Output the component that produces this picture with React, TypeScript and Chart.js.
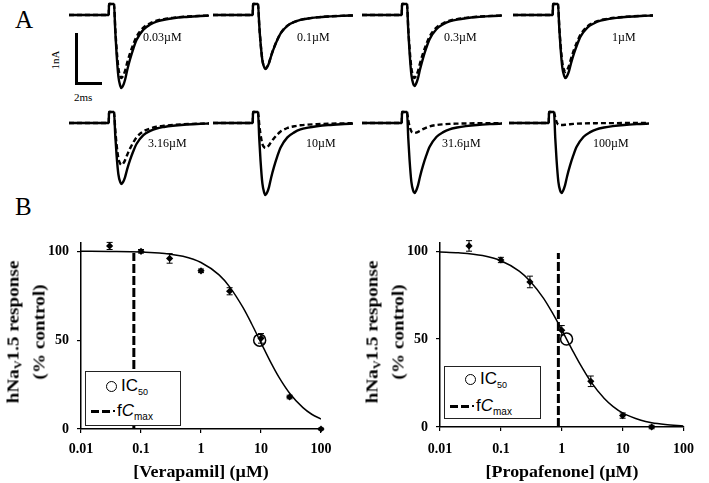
import React, { useEffect, useRef } from "react";
import { Chart, registerables } from "chart.js";

Chart.register(...registerables);

// ---------------- Panel A : current traces ----------------
const concLabels = ["0.03µM", "0.1µM", "0.3µM", "1µM", "3.16µM", "10µM", "31.6µM", "100µM"];
// peak inward current (nA), control (solid) and drug (dashed)
const controlPeak = [1.46, 1.08, 1.42, 1.26, 1.22, 1.44, 1.4, 1.4];
const drugPeak = [1.26, 1.07, 1.26, 1.14, 0.84, 0.5, 0.2, 0.04];
// time (ms) relative to the depolarising step
const traceTime = [-3.2, -0.02, 0, 0.4, 0.5, 0.6, 0.75, 0.9, 1.0, 1.12, 1.28, 1.45, 1.68, 1.95, 2.21, 2.75, 3.3, 3.8, 4.4, 5.1, 6.0, 7.3, 8.0];
// capacitive artefact (nA)
const capArtifact = [0, 0, 0.22, 0.22, 0.12, 0.05, 0, 0, 0, 0, 0, 0, 0, 0, 0, 0, 0, 0, 0, 0, 0, 0, 0];
// normalised sodium current shape (fraction of peak)
const traceShape = [0, 0, 0, 0, 0.3, 0.55, 0.84, 0.97, 1.0, 0.97, 0.89, 0.76, 0.61, 0.46, 0.34, 0.2, 0.13, 0.09, 0.065, 0.045, 0.028, 0.014, 0.008];

// ---------------- Panel B : concentration-response ----------------
const xTickValues = [0.01, 0.1, 1, 10, 100];
const xTickLabels = ["0.01", "0.1", "1", "10", "100"];
const yTickValues = [0, 50, 100];
const yTickLabels = ["0", "50", "100"];

const verConc = [0.03, 0.1, 0.3, 1, 3, 10, 30, 100];
const verResp = [103, 100, 96, 89, 77.5, 51, 18, 0];
const verErr = [2, 1, 2.7, 1, 2, 2.7, 1, 0.5];
const verFitConc = [0.01, 0.03, 0.1, 0.2, 0.3, 0.5, 1, 2, 3, 5, 7, 10, 15, 20, 30, 50, 70, 100];
const verFitResp = [100, 99.9, 99.6, 99.0, 98.4, 97.2, 93.7, 86.7, 80.0, 68.4, 59.1, 48.5, 36.6, 29.0, 20.1, 12.0, 8.3, 5.6];
const verIC50 = [9.5, 50];
const verFCmax = [0.076, 99];

const proConc = [0.03, 0.1, 0.3, 1, 3, 10, 30];
const proResp = [103, 95, 82.5, 55, 26, 6.5, 0];
const proErr = [3, 1.5, 3.3, 2.7, 3, 1.5, 1];
const proFitConc = [0.01, 0.02, 0.05, 0.1, 0.2, 0.3, 0.5, 0.7, 1, 1.5, 2, 3, 5, 7, 10, 20, 30, 50, 100];
const proFitResp = [99.6, 99.1, 97.5, 94.6, 88.7, 83.1, 73.3, 65.0, 55.2, 43.6, 35.7, 25.8, 16.2, 11.6, 8.0, 3.8, 2.4, 1.4, 0.6];
const proIC50 = [1.2, 50];
const proFCmax = [0.88, 99];

// ---------------- layout ----------------
const panelLeft = [69, 213, 362, 513, 69, 213, 362, 509];
const rowTop = [0, 108];
const labelLeft = [143, 297, 444, 612, 148, 306, 442, 593];
const labelCY = [37, 143];

const SERIF = '"Liberation Serif", "Times New Roman", serif';
const SANS = '"Liberation Sans", Arial, sans-serif';

function Trace({ idx }: { idx: number }) {
  const ref = useRef<HTMLCanvasElement>(null);
  useEffect(() => {
    const mk = (amp: number) => traceTime.map((t, i) => ({ x: t, y: capArtifact[i] - amp * traceShape[i] }));
    const chart = new Chart(ref.current!, {
      type: "scatter",
      data: {
        datasets: [
          {
            data: mk(drugPeak[idx]),
            showLine: true,
            borderColor: "#000",
            borderWidth: 2.4,
            borderDash: [5, 3],
            pointRadius: 0,
            cubicInterpolationMode: "monotone",
            order: 0,
            clip: false,
          } as any,
          {
            data: mk(controlPeak[idx]),
            showLine: true,
            borderColor: "#000",
            borderWidth: 2.4,
            pointRadius: 0,
            cubicInterpolationMode: "monotone",
            order: 1,
            clip: false,
          } as any,
        ],
      },
      options: {
        animation: false,
        responsive: false,
        events: [],
        layout: { padding: 0 },
        plugins: { legend: { display: false }, tooltip: { enabled: false } },
        scales: {
          x: { type: "linear", display: false, min: -3.2, max: 8 },
          y: { type: "linear", display: false, min: -1.6, max: 0.3 },
        },
      },
    });
    return () => chart.destroy();
  }, [idx]);
  const row = idx < 4 ? 0 : 1;
  return (
    <canvas
      ref={ref}
      width={140}
      height={95}
      style={{ position: "absolute", left: panelLeft[idx], top: rowTop[row], width: 140, height: 95 }}
    />
  );
}

const errorBarPlugin = {
  id: "errorBars",
  afterDatasetsDraw(chart: any) {
    const ctx = chart.ctx;
    const yScale = chart.scales.y;
    chart.data.datasets.forEach((ds: any, di: number) => {
      if (!ds.errors) return;
      const meta = chart.getDatasetMeta(di);
      ctx.save();
      ctx.strokeStyle = "#000";
      ctx.lineWidth = 1;
      meta.data.forEach((el: any, i: number) => {
        const v = ds.data[i].y;
        const e = ds.errors[i];
        const yt = yScale.getPixelForValue(v + e);
        const yb = yScale.getPixelForValue(v - e);
        ctx.beginPath();
        ctx.moveTo(el.x, yt);
        ctx.lineTo(el.x, yb);
        ctx.moveTo(el.x - 3, yt);
        ctx.lineTo(el.x + 3, yt);
        ctx.moveTo(el.x - 3, yb);
        ctx.lineTo(el.x + 3, yb);
        ctx.stroke();
      });
      ctx.restore();
    });
  },
};

type DoseProps = {
  left: number;
  top: number;
  width: number;
  height: number;
  padRight: number;
  xPad: number;
  yPad: number;
  conc: number[];
  resp: number[];
  err: number[];
  fitX: number[];
  fitY: number[];
  ic50: number[];
  fc: number[];
};

function DoseChart(p: DoseProps) {
  const ref = useRef<HTMLCanvasElement>(null);
  useEffect(() => {
    const tickFont = { family: SERIF, size: 14, weight: "bold" as const };
    const chart = new Chart(ref.current!, {
      type: "scatter",
      data: {
        datasets: [
          {
            data: p.conc.map((c, i) => ({ x: c, y: p.resp[i] })),
            errors: p.err,
            pointStyle: "rectRot",
            pointRadius: 3.6,
            backgroundColor: "#000",
            borderColor: "#000",
            borderWidth: 0,
            order: 1,
            clip: false,
          } as any,
          {
            data: [{ x: p.ic50[0], y: p.ic50[1] }],
            pointStyle: "circle",
            pointRadius: 6,
            backgroundColor: "rgba(0,0,0,0)",
            borderColor: "#000",
            borderWidth: 1.5,
            order: 0,
            clip: false,
          } as any,
          {
            data: p.fitX.map((c, i) => ({ x: c, y: p.fitY[i] })),
            showLine: true,
            borderColor: "#000",
            borderWidth: 1.5,
            pointRadius: 0,
            cubicInterpolationMode: "monotone",
            order: 2,
          } as any,
          {
            data: [
              { x: p.fc[0], y: 0 },
              { x: p.fc[0], y: p.fc[1] },
            ],
            showLine: true,
            borderColor: "#000",
            borderWidth: 3,
            borderDash: [9, 3],
            pointRadius: 0,
            order: 3,
          } as any,
        ],
      },
      options: {
        animation: false,
        responsive: false,
        events: [],
        layout: { padding: { left: 0, right: p.padRight, top: 10, bottom: 0 } },
        plugins: { legend: { display: false }, tooltip: { enabled: false } },
        scales: {
          x: {
            type: "logarithmic",
            min: 0.01,
            max: 100,
            afterBuildTicks: (s: any) => {
              s.ticks = xTickValues.map((v) => ({ value: v }));
            },
            afterFit: (s: any) => {
              s.height = 54;
            },
            ticks: {
              callback: (_v: any, i: number) => xTickLabels[i],
              font: tickFont,
              color: "#000",
              padding: p.xPad,
              maxRotation: 0,
              autoSkip: false,
            },
            grid: { drawOnChartArea: false, drawTicks: true, tickLength: 4, color: "#000", lineWidth: 1.2 },
            border: { display: true, color: "#000", width: 1.5 },
          },
          y: {
            type: "linear",
            min: 0,
            max: 105,
            afterBuildTicks: (s: any) => {
              s.ticks = yTickValues.map((v) => ({ value: v }));
            },
            afterFit: (s: any) => {
              s.width = 81;
            },
            ticks: {
              callback: (_v: any, i: number) => yTickLabels[i],
              font: tickFont,
              color: "#000",
              padding: p.yPad,
            },
            grid: { drawOnChartArea: false, drawTicks: true, tickLength: 4, color: "#000", lineWidth: 1.2 },
            border: { display: true, color: "#000", width: 1.5 },
          },
        },
      } as any,
      plugins: [errorBarPlugin],
    });
    return () => chart.destroy();
  }, []);
  return (
    <canvas
      ref={ref}
      width={p.width}
      height={p.height}
      style={{ position: "absolute", left: p.left, top: p.top, width: p.width, height: p.height }}
    />
  );
}

function Txt({
  x,
  cy,
  size,
  children,
  family = SERIF,
  weight = "normal",
  center = false,
  sx = 1,
}: any) {
  return (
    <div
      style={{
        position: "absolute",
        left: x,
        top: cy - size / 2,
        fontFamily: family,
        fontSize: size,
        fontWeight: weight,
        lineHeight: 1,
        whiteSpace: "nowrap",
        color: "#000",
        transform: center ? `translateX(-50%) scaleX(${sx})` : undefined,
      }}
    >
      {children}
    </div>
  );
}

function YTitle({ cx, cy }: { cx: number; cy: number }) {
  return (
    <div
      style={{
        position: "absolute",
        left: cx,
        top: cy,
        fontFamily: SERIF,
        fontWeight: "bold",
        fontSize: 16,
        lineHeight: "21px",
        whiteSpace: "nowrap",
        textAlign: "center",
        color: "#000",
        transform: "translate(-50%, -50%) rotate(-90deg) scaleX(1.2)",
      }}
    >
      <div>
        hNa<sub style={{ fontSize: 10, verticalAlign: "-3px" }}>V</sub>1.5 response
      </div>
      <div>(% control)</div>
    </div>
  );
}

function LegendBox({ left, top, width, height, r1, r2 }: any) {
  const dash = (x: number, w: number) => (
    <div style={{ position: "absolute", left: x, top: r2 - 1.5, width: w, height: 3, background: "#000" }} />
  );
  return (
    <div
      style={{
        position: "absolute",
        left,
        top,
        width,
        height,
        boxSizing: "border-box",
        border: "1px solid #222",
        background: "#fff",
        fontFamily: SANS,
        color: "#000",
      }}
    >
      <div
        style={{
          position: "absolute",
          left: 20,
          top: r1 - 5.5,
          width: 11,
          height: 11,
          boxSizing: "border-box",
          border: "1.8px solid #000",
          borderRadius: "50%",
        }}
      />
      <div style={{ position: "absolute", left: 35, top: r1 - 9, fontSize: 17, lineHeight: "18px", whiteSpace: "nowrap" }}>
        IC<span style={{ fontSize: 9, position: "relative", top: 4 }}>50</span>
      </div>
      {dash(5, 8)}
      {dash(16, 8)}
      <div style={{ position: "absolute", left: 27, top: r2 - 1, width: 2, height: 2, background: "#000" }} />
      <div style={{ position: "absolute", left: 31, top: r2 - 9, fontSize: 17, lineHeight: "18px", whiteSpace: "nowrap" }}>
        f<i>C</i>
        <span style={{ fontSize: 10, position: "relative", top: 4 }}>max</span>
      </div>
    </div>
  );
}

export default function App() {
  return (
    <div style={{ position: "absolute", left: 0, top: 0, width: 709, height: 483, overflow: "hidden", background: "#fff" }}>
      <Txt x={15} cy={19} size={25}>A</Txt>
      <Txt x={15} cy={206} size={25}>B</Txt>

      {/* scale bar */}
      <div style={{ position: "absolute", left: 75, top: 33, width: 3, height: 52, background: "#000" }} />
      <div style={{ position: "absolute", left: 75, top: 82, width: 27, height: 3, background: "#000" }} />
      <div
        style={{
          position: "absolute",
          left: 55,
          top: 60,
          fontFamily: SERIF,
          fontSize: 11,
          lineHeight: 1,
          whiteSpace: "nowrap",
          transform: "translate(-50%, -50%) rotate(-90deg)",
        }}
      >
        1nA
      </div>
      <Txt x={74} cy={97} size={11}>2ms</Txt>

      {concLabels.map((_, i) => (
        <Trace key={i} idx={i} />
      ))}
      {concLabels.map((l, i) => (
        <Txt key={"l" + i} x={labelLeft[i]} cy={labelCY[i < 4 ? 0 : 1]} size={12}>
          {l}
        </Txt>
      ))}

      <DoseChart
        left={0}
        top={226}
        width={345}
        height={257}
        padRight={24}
        xPad={8}
        yPad={8}
        conc={verConc}
        resp={verResp}
        err={verErr}
        fitX={verFitConc}
        fitY={verFitResp}
        ic50={verIC50}
        fc={verFCmax}
      />
      <DoseChart
        left={359}
        top={226}
        width={345}
        height={255}
        padRight={14}
        xPad={10}
        yPad={8}
        conc={proConc}
        resp={proResp}
        err={proErr}
        fitX={proFitConc}
        fitY={proFitResp}
        ic50={proIC50}
        fc={proFCmax}
      />

      <YTitle cx={26} cy={332} />
      <YTitle cx={385} cy={332} />
      <Txt x={201} cy={471.5} size={16} weight="bold" center sx={1.12}>
        [Verapamil] (µM)
      </Txt>
      <Txt x={562} cy={471.5} size={16} weight="bold" center sx={1.12}>
        [Propafenone] (µM)
      </Txt>

      <LegendBox left={85} top={371} width={96} height={55} r1={14} r2={39} />
      <LegendBox left={444} top={366} width={97} height={53} r1={12} r2={39} />
    </div>
  );
}
